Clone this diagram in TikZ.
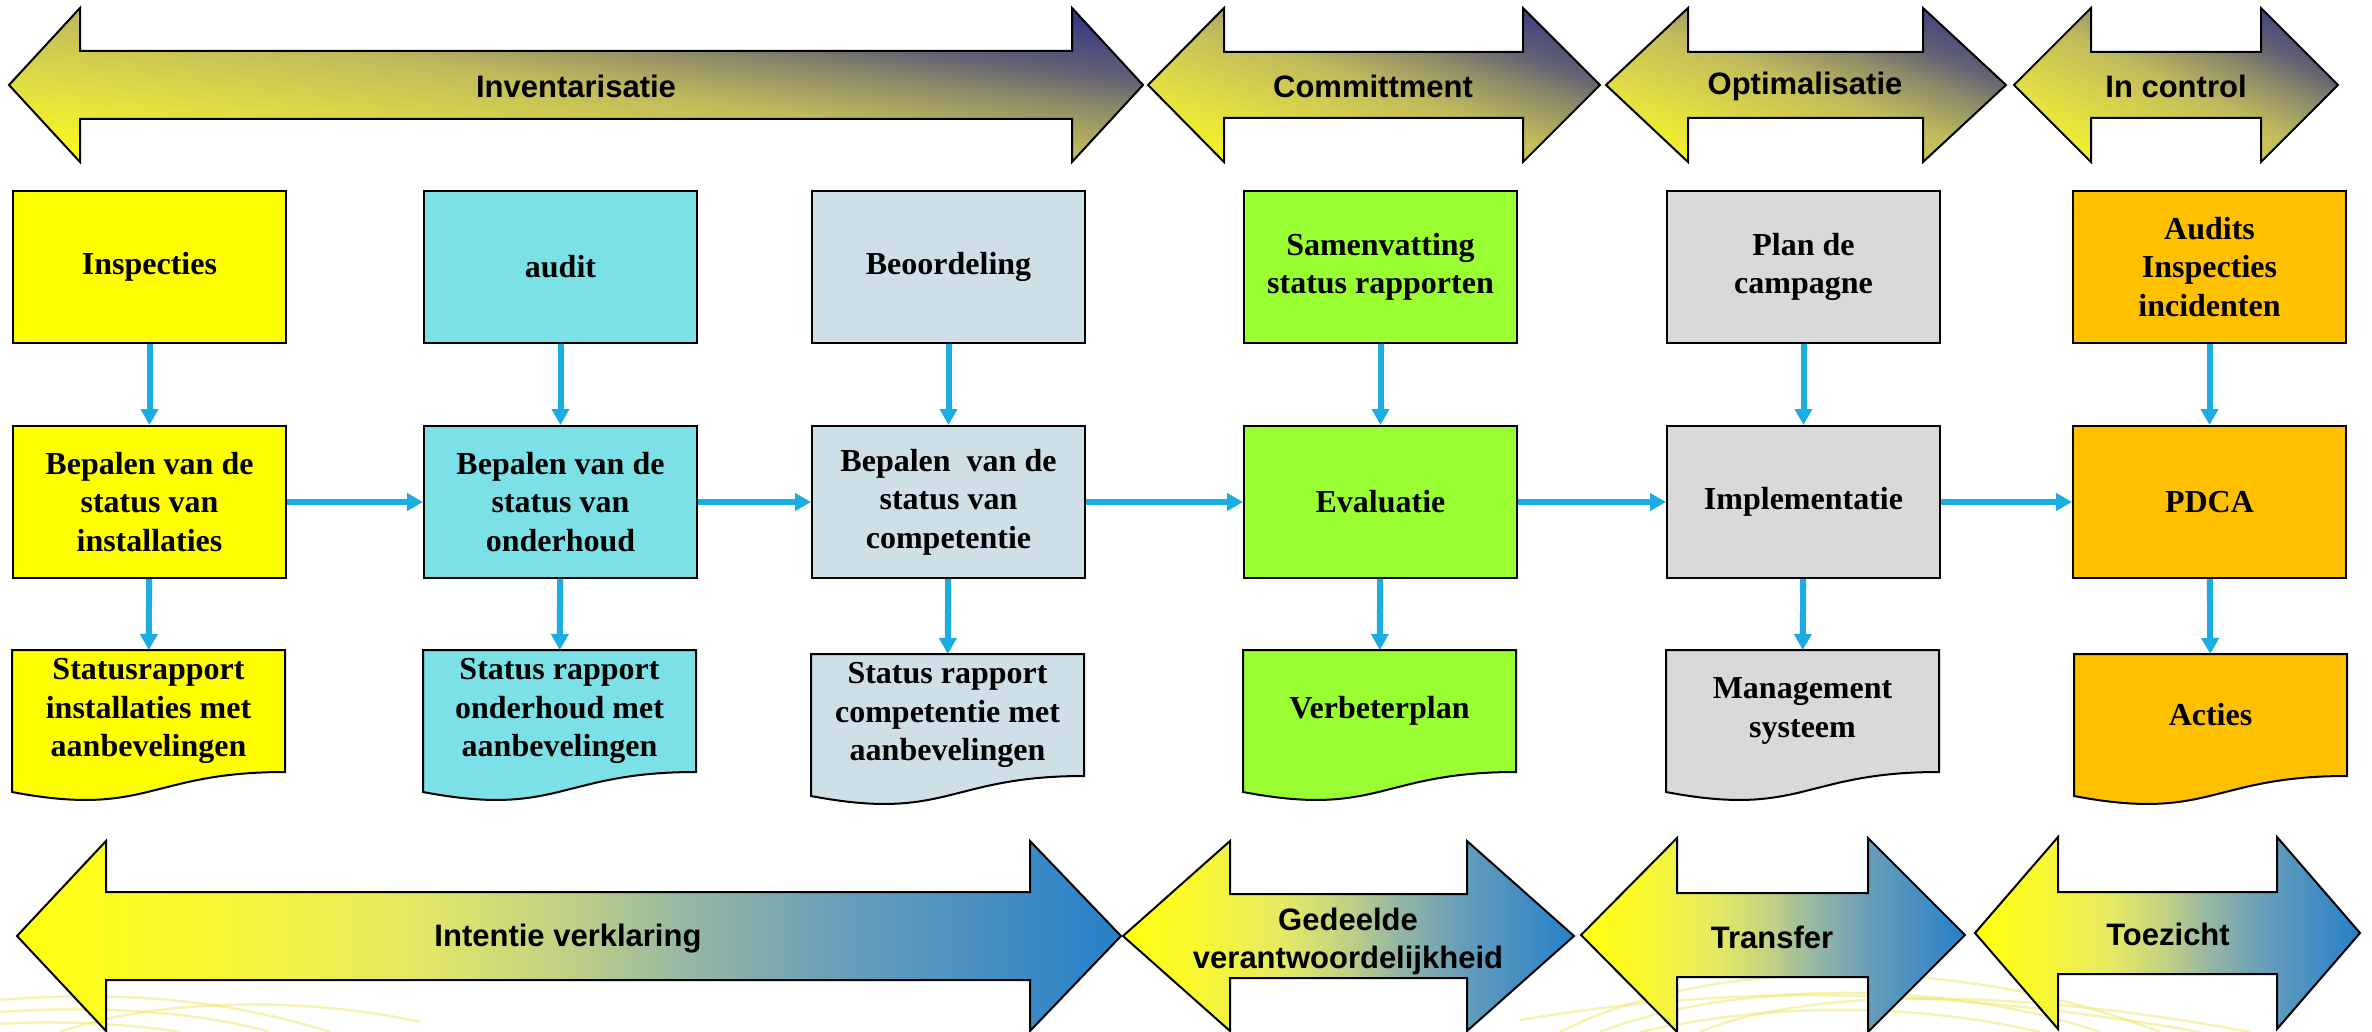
\documentclass[tikz,border=0pt]{standalone}
\usepackage{fontspec}
\setmainfont{Liberation Serif}
\newfontfamily\arrowfamily{Liberation Sans}
\usetikzlibrary{arrows.meta,calc}
\definecolor{cYel}{RGB}{255,255,0}
\definecolor{cCyan}{RGB}{124,225,230}
\definecolor{cGrayBlue}{RGB}{207,223,232}
\definecolor{cLime}{RGB}{153,255,51}
\definecolor{cLGray}{RGB}{217,217,217}
\definecolor{cAmber}{RGB}{255,192,0}
\definecolor{connc}{RGB}{27,172,226}
\definecolor{decoc}{RGB}{240,232,110}
\definecolor{tga}{RGB}{252,250,28}
\definecolor{tgb}{RGB}{226,223,66}
\definecolor{tgc}{RGB}{192,187,92}
\definecolor{tgd}{RGB}{140,137,105}
\definecolor{tge}{RGB}{100,98,115}
\definecolor{tgf}{RGB}{40,46,138}
\definecolor{bga}{RGB}{255,255,15}
\definecolor{bgb}{RGB}{250,248,45}
\definecolor{bgc}{RGB}{230,234,98}
\definecolor{bgd}{RGB}{192,208,132}
\definecolor{bge}{RGB}{152,184,162}
\definecolor{bgf}{RGB}{104,158,186}
\definecolor{bgg}{RGB}{38,128,200}
\pgfdeclarehorizontalshading{topgrad}{100bp}{color(0bp)=(tga); color(27bp)=(tga); color(37.5bp)=(tgb); color(50bp)=(tgc); color(58bp)=(tgd); color(63bp)=(tge); color(75bp)=(tgf); color(100bp)=(tgf)}
\pgfdeclarehorizontalshading{botgrad}{100bp}{color(0bp)=(bga); color(25bp)=(bga); color(32.5bp)=(bgb); color(42.5bp)=(bgc); color(50bp)=(bgd); color(55bp)=(bge); color(62.5bp)=(bgf); color(75bp)=(bgg); color(100bp)=(bgg)}
\pgfdeclarelayer{paper}
\pgfdeclarelayer{deco}
\pgfdeclarelayer{bg}
\pgfsetlayers{paper,deco,bg,main}
\newcommand\boxfnt{\bfseries\fontsize{16pt}{19.25pt}\selectfont}
\newcommand\arrfnt{\arrowfamily\bfseries\fontsize{15.5pt}{19pt}\selectfont}
% outline of a double arrow: tipL, shaftL, shaftR, tipR, cy, shaft half, head half
\newcommand\ArrCoords[7]{(#1,#5) -- (#2,{#5-#7}) -- (#2,{#5-#6}) -- (#3,{#5-#6}) -- (#3,{#5-#7}) -- (#4,#5) -- (#3,{#5+#7}) -- (#3,{#5+#6}) -- (#2,{#5+#6}) -- (#2,{#5+#7}) -- cycle}
% top arrow with diagonal gradient (yellow lower left -> navy upper right)
\newcommand\MyTopArrow[7]{%
\begin{scope}
\clip \ArrCoords{#1}{#2}{#3}{#4}{#5}{#6}{#7};
\begin{scope}[transform canvas={shift={({(#1+#4)/2},#5)},xscale={(#4-#1)/200},yscale={#7/100},rotate=45}]
\shade[shading=topgrad] (-70.72pt,-70.72pt) rectangle (70.72pt,70.72pt);
\end{scope}
\end{scope}
\draw[black,line width=1pt,line join=miter] \ArrCoords{#1}{#2}{#3}{#4}{#5}{#6}{#7};}
\newcommand\MyBotArrow[7]{\path[shade,shading=botgrad,draw=black,line width=1pt] \ArrCoords{#1}{#2}{#3}{#4}{#5}{#6}{#7};}
\newcommand\MyDocShape[2]{\begin{pgfonlayer}{bg}\draw[line width=1pt,fill=#2] (#1.north west) -- (#1.north east) -- (#1.south east) .. controls (#1.south) and ($(#1.south)+(0,46)$) .. ($(#1.south west)+(0,20)$) -- cycle;\end{pgfonlayer}}
\begin{document}
\begin{tikzpicture}[x=0.5pt,y=-0.5pt,
  box/.style={draw=black,line width=1pt,anchor=north west,minimum width=136.5pt,minimum height=76pt,inner sep=0pt,outer sep=0.5pt,align=center,font=\boxfnt},
  docnode/.style={anchor=north west,minimum width=136.5pt,minimum height=61pt,inner sep=0pt,outer sep=0pt,align=center,font=\boxfnt},
  conn/.style={draw=connc,line width=3pt,-{Triangle[length=8pt,width=8.5pt]}},
  arrtxt/.style={font=\arrfnt,align=center,inner sep=0pt},
  decoline/.style={draw=decoc,line width=1.2pt,opacity=0.55}
]
\useasboundingbox (0,0) rectangle (2372,1032);
\begin{pgfonlayer}{paper}
\fill[white] (0,0) rectangle (2372,1032);
\end{pgfonlayer}
% faint background swirls
\begin{pgfonlayer}{deco}
\draw[decoline] (0,1000) .. controls (120,990) and (230,1000) .. (330,1032);
\draw[decoline] (0,1012) .. controls (100,1005) and (200,1012) .. (270,1032);
\draw[decoline] (0,1024) .. controls (60,1020) and (130,1024) .. (180,1032);
\draw[decoline] (60,1032) .. controls (150,1000) and (300,995) .. (420,1022);
\draw[decoline] (1560,1032) .. controls (1700,960) and (1950,950) .. (2160,1032);
\draw[decoline] (1600,1032) .. controls (1720,985) and (1930,975) .. (2100,1032);
\draw[decoline] (1640,1032) .. controls (1760,1005) and (1900,1000) .. (2040,1032);
\draw[decoline] (1520,1020) .. controls (1700,990) and (1900,980) .. (2200,1032);
\draw[decoline] (1700,1032) .. controls (1800,990) and (2000,985) .. (2250,1032);
\end{pgfonlayer}
% top phase arrows
\MyTopArrow{9}{80}{1072}{1143}{85}{34}{77}
\MyTopArrow{1148}{1224}{1523}{1600}{85}{33}{77}
\MyTopArrow{1606}{1688}{1923}{2006}{85}{33}{77}
\MyTopArrow{2014}{2091}{2261}{2338}{85}{33}{77}
\node[arrtxt] (tinv) at (576,86) {Inventarisatie};
\node[arrtxt] (tcom) at (1373,86) {Committment};
\node[arrtxt] (topt) at (1805,86) {Optimalisatie};
\node[arrtxt] (tinc) at (2176,86) {In control};
% bottom arrows
\MyBotArrow{17}{106}{1030}{1121}{936}{44}{95}
\MyBotArrow{1123}{1230}{1467}{1574}{936}{42}{95}
\MyBotArrow{1581}{1677}{1868}{1965}{935}{42}{97}
\MyBotArrow{1975}{2058}{2277}{2360}{933}{41}{96}
\node[arrtxt] (tint) at (568,939) {Intentie verklaring};
\node[arrtxt] (tged) at (1348,941) {Gedeelde\\verantwoordelijkheid};
\node[arrtxt] (ttra) at (1772,937) {Transfer};
\node[arrtxt] (ttoe) at (2168,934) {Toezicht};
% column 1
\node[box,fill=cYel] (ins) at (12,190) {Inspecties};
\node[box,fill=cYel] (bp1) at (12,425) {Bepalen van de\\status van\\installaties};
\node[docnode] (sr1) at (12,650) {Statusrapport\\installaties met\\aanbevelingen};
\MyDocShape{sr1}{cYel}
% column 2
\node[box,fill=cCyan] (aud) at (423,190) {audit};
\node[box,fill=cCyan] (bp2) at (423,425) {Bepalen van de\\status van\\onderhoud};
\node[docnode] (sr2) at (423,650) {Status rapport\\onderhoud met\\aanbevelingen};
\MyDocShape{sr2}{cCyan}
% column 3
\node[box,fill=cGrayBlue] (beo) at (811,190) {Beoordeling};
\node[box,fill=cGrayBlue] (bp3) at (811,425) {Bepalen\ \ van de\\status van\\competentie};
\node[docnode] (sr3) at (811,654) {Status rapport\\competentie met\\aanbevelingen};
\MyDocShape{sr3}{cGrayBlue}
% column 4
\node[box,fill=cLime] (sam) at (1243,190) {Samenvatting\\status rapporten};
\node[box,fill=cLime] (eval) at (1243,425) {Evaluatie};
\node[docnode] (vbp) at (1243,650) {Verbeterplan};
\MyDocShape{vbp}{cLime}
% column 5
\node[box,fill=cLGray] (plan) at (1666,190) {Plan de\\campagne};
\node[box,fill=cLGray] (impl) at (1666,425) {Implementatie};
\node[docnode] (mgs) at (1666,650) {Management\\systeem};
\MyDocShape{mgs}{cLGray}
% column 6
\node[box,fill=cAmber] (ais) at (2072,190) {Audits\\Inspecties\\incidenten};
\node[box,fill=cAmber] (pdca) at (2072,425) {PDCA};
\node[docnode] (act) at (2074,654) {Acties};
\MyDocShape{act}{cAmber}
% connectors
\draw[conn] (ins) -- (bp1);
\draw[conn] (bp1) -- (sr1);
\draw[conn] (aud) -- (bp2);
\draw[conn] (bp2) -- (sr2);
\draw[conn] (beo) -- (bp3);
\draw[conn] (bp3) -- (sr3);
\draw[conn] (sam) -- (eval);
\draw[conn] (eval) -- (vbp);
\draw[conn] (plan) -- (impl);
\draw[conn] (impl) -- (mgs);
\draw[conn] (ais) -- (pdca);
\draw[conn] (pdca) -- (act);
\draw[conn] (bp1) -- (bp2);
\draw[conn] (bp2) -- (bp3);
\draw[conn] (bp3) -- (eval);
\draw[conn] (eval) -- (impl);
\draw[conn] (impl) -- (pdca);
\end{tikzpicture}
\end{document}
